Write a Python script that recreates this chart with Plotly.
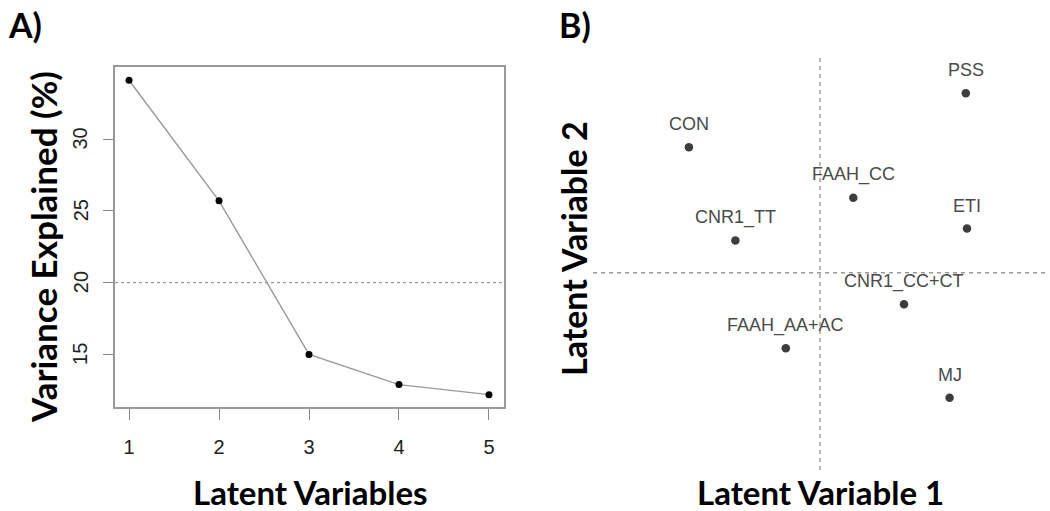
import plotly.graph_objects as go

# Panel A data
lv = [1, 2, 3, 4, 5]
var_explained = [34.1, 25.7, 15.0, 12.9, 12.2]
y_ticks = [15, 20, 25, 30]
threshold = 20

# Panel B data (loadings, arbitrary units)
names = ["PSS", "CON", "FAAH_CC", "ETI", "CNR1_TT", "CNR1_CC+CT", "FAAH_AA+AC", "MJ"]
lv1 = [0.486, -0.437, 0.111, 0.490, -0.282, 0.280, -0.114, 0.432]
lv2 = [0.598, 0.418, 0.250, 0.147, 0.107, -0.105, -0.252, -0.417]

W, H = 1050, 511
def px(x):
    return x / W
def py(y):
    return 1 - y / H

fig = go.Figure()

fig.add_trace(go.Scatter(
    x=lv, y=var_explained, mode="lines+markers",
    line=dict(color="#9a9a9a", width=1.4),
    marker=dict(color="black", size=7),
    xaxis="x", yaxis="y", showlegend=False))

fig.add_trace(go.Scatter(
    x=lv1, y=lv2, mode="markers",
    marker=dict(color="#3d3d3d", size=8.5),
    xaxis="x2", yaxis="y2", showlegend=False))

tick_font = dict(family="Liberation Sans, Arial", size=20, color="#222")
fig.update_layout(
    width=W, height=H, margin=dict(l=0, r=0, t=0, b=0),
    paper_bgcolor="white", plot_bgcolor="white",
    xaxis=dict(domain=[px(115), px(504)], range=[0.844, 5.167],
               tickvals=lv, ticks="outside", ticklen=11, tickcolor="#888",
               tickwidth=1.2, showgrid=False, zeroline=False,
               showline=True, mirror=True, linecolor="#999", linewidth=1.5,
               tickfont=tick_font, ticklabelstandoff=10),
    yaxis=dict(domain=[py(407), py(67)], range=[11.34, 35.02],
               tickvals=y_ticks, ticks="outside", ticklen=10, tickcolor="#888",
               tickwidth=1.2, showgrid=False, zeroline=False,
               showticklabels=False,
               showline=True, mirror=True, linecolor="#999", linewidth=1.5),
    xaxis2=dict(domain=[px(593), px(1047)], range=[-0.7567, 0.7567],
                visible=False),
    yaxis2=dict(domain=[py(470), py(58)], range=[-0.6577, 0.7157],
                visible=False),
)

# rotated y tick labels (R style), placed on the y axis scale
for v in y_ticks:
    fig.add_annotation(x=px(80.5), y=v, xref="paper", yref="y", text=str(v),
                       showarrow=False, textangle=-90, xanchor="center",
                       yanchor="middle", font=tick_font)

# threshold dotted line (panel A)
fig.add_shape(type="line", xref="x domain", yref="y", x0=0, x1=1,
              y0=threshold, y1=threshold,
              line=dict(color="#999", width=1.4, dash="dot"))

# reference dashed lines (panel B)
fig.add_shape(type="line", xref="x2", yref="y2 domain", x0=0, x1=0, y0=0, y1=1,
              line=dict(color="#999", width=1.4, dash="4px,4px"))
fig.add_shape(type="line", xref="x2 domain", yref="y2", x0=0, x1=1, y0=0, y1=0,
              line=dict(color="#999", width=1.4, dash="4px,4px"))

# point labels
for n, a, b in zip(names, lv1, lv2):
    fig.add_annotation(x=a, y=b, xref="x2", yref="y2", text=n, showarrow=False,
                       yshift=23, xanchor="center", yanchor="middle",
                       font=dict(family="Liberation Sans, Arial", size=18, color="#4a4a4a"))

def tfont(s):
    return dict(family="Lato", size=s, color="black", weight="bold")

fig.add_annotation(x=px(310), y=py(492), xref="paper", yref="paper",
                   text="Latent Variables", showarrow=False,
                   xanchor="center", yanchor="middle", font=tfont(33))
fig.add_annotation(x=px(43), y=py(247), xref="paper", yref="paper",
                   text="Variance Explained (%)", showarrow=False, textangle=-90,
                   xanchor="center", yanchor="middle", font=tfont(35))
fig.add_annotation(x=px(820), y=py(492), xref="paper", yref="paper",
                   text="Latent Variable 1", showarrow=False,
                   xanchor="center", yanchor="middle", font=tfont(33))
fig.add_annotation(x=px(574), y=py(249), xref="paper", yref="paper",
                   text="Latent Variable 2", showarrow=False, textangle=-90,
                   xanchor="center", yanchor="middle", font=tfont(34))
fig.add_annotation(x=px(6), y=py(25), xref="paper", yref="paper",
                   text="A)", showarrow=False,
                   xanchor="left", yanchor="middle", font=tfont(34))
fig.add_annotation(x=px(557), y=py(25), xref="paper", yref="paper",
                   text="B)", showarrow=False,
                   xanchor="left", yanchor="middle", font=tfont(34))

fig.write_html("out.html", config={"displayModeBar": False},
               post_script="document.body.style.margin='0';document.body.style.overflow='hidden';")
